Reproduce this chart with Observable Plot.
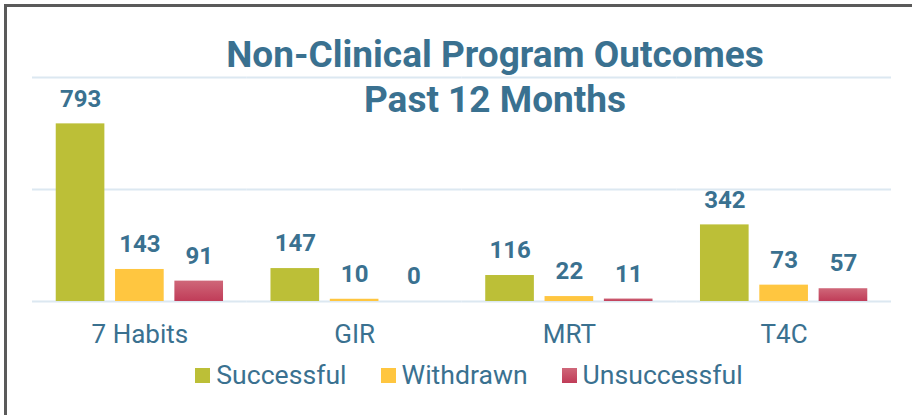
<!DOCTYPE html>
<html>
<head>
<meta charset="utf-8">
<script src="https://cdn.jsdelivr.net/npm/d3@7"></script>
<script src="https://cdn.jsdelivr.net/npm/@observablehq/plot@0.6"></script>
<style>
  html, body { margin: 0; padding: 0; background: #fff; }
  body { width: 912px; height: 415px; position: relative; overflow: hidden; font-family: Roboto, "Noto Sans", sans-serif; }
  #frame { position: absolute; left: 4px; top: 4px; width: 1000px; height: 500px; border-left: 3px solid #5a5a5a; border-top: 3px solid #5a5a5a; box-sizing: border-box; }
  #chart { position: absolute; left: 0; top: 0; }
  #title { position: absolute; left: 95px; width: 800px; top: 32px; text-align: center; font-weight: bold; font-size: 37px; line-height: 45px; color: #3a7190; }
  #legend { position: absolute; left: 0; width: 938px; top: 360px; display: flex; justify-content: center; gap: 34px; font-size: 26.6px; line-height: 30px; color: #3a7190; }
  .item { display: flex; align-items: center; }
  .sw { width: 15px; height: 15px; margin-right: 6px; }
</style>
</head>
<body>
<div id="frame"></div>
<div id="chart"></div>
<div id="title">Non-Clinical Program Outcomes<br>Past 12 Months</div>
<div id="legend"></div>
<script>
const programs = ["7 Habits", "GIR", "MRT", "T4C"];
const outcomes = ["Successful", "Withdrawn", "Unsuccessful"];
const successful = [793, 147, 116, 342];
const withdrawn = [143, 10, 22, 73];
const unsuccessful = [91, 0, 11, 57];
const gridTicks = [0, 500, 1000];

const colors = ["#bcbf37", "#ffc640", "url(#unsuccGrad)"];
const legendColors = ["#bcbf37", "#ffc640", "linear-gradient(#cf6779, #c03c58)"];
const textColor = "#3a7190";

const series = [successful, withdrawn, unsuccessful];
const data = [];
programs.forEach((p, i) => {
  outcomes.forEach((o, j) => data.push({program: p, outcome: o, value: series[j][i]}));
});

const chart = Plot.plot({
  width: 912,
  height: 415,
  marginLeft: 32,
  marginRight: 21,
  marginTop: 77,
  marginBottom: 114,
  style: {fontFamily: "Roboto", fontSize: "26px", color: textColor, background: "transparent", overflow: "visible"},
  fx: {domain: programs, padding: 0, round: false, label: null, tickSize: 0, tickPadding: 23},
  x: {domain: outcomes, paddingInner: 0.18, paddingOuter: 0.40, round: false, axis: null},
  y: {domain: [0, 1000], axis: null},
  color: {domain: outcomes, range: colors},
  marks: [
    Plot.ruleY(gridTicks, {stroke: "#dce8f1", strokeWidth: 2}),
    Plot.barY(data, {fx: "program", x: "outcome", y: "value", fill: "outcome"}),
    Plot.text(data, {fx: "program", x: "outcome", y: "value", text: d => String(d.value),
      lineAnchor: "middle", dy: -25, fontSize: 24, fontWeight: "bold", fill: textColor})
  ]
});

const defs = d3.select(chart).insert("defs", ":first-child");
const g = defs.append("linearGradient").attr("id", "unsuccGrad")
  .attr("x1", 0).attr("y1", 0).attr("x2", 0).attr("y2", 1);
g.append("stop").attr("offset", "0%").attr("stop-color", "#cf6779");
g.append("stop").attr("offset", "100%").attr("stop-color", "#c03c58");

document.getElementById("chart").appendChild(chart);

const legend = document.getElementById("legend");
outcomes.forEach((o, i) => {
  const item = document.createElement("div");
  item.className = "item";
  const sw = document.createElement("span");
  sw.className = "sw";
  sw.style.background = legendColors[i];
  const t = document.createElement("span");
  t.textContent = o;
  item.appendChild(sw);
  item.appendChild(t);
  legend.appendChild(item);
});
</script>
</body>
</html>
